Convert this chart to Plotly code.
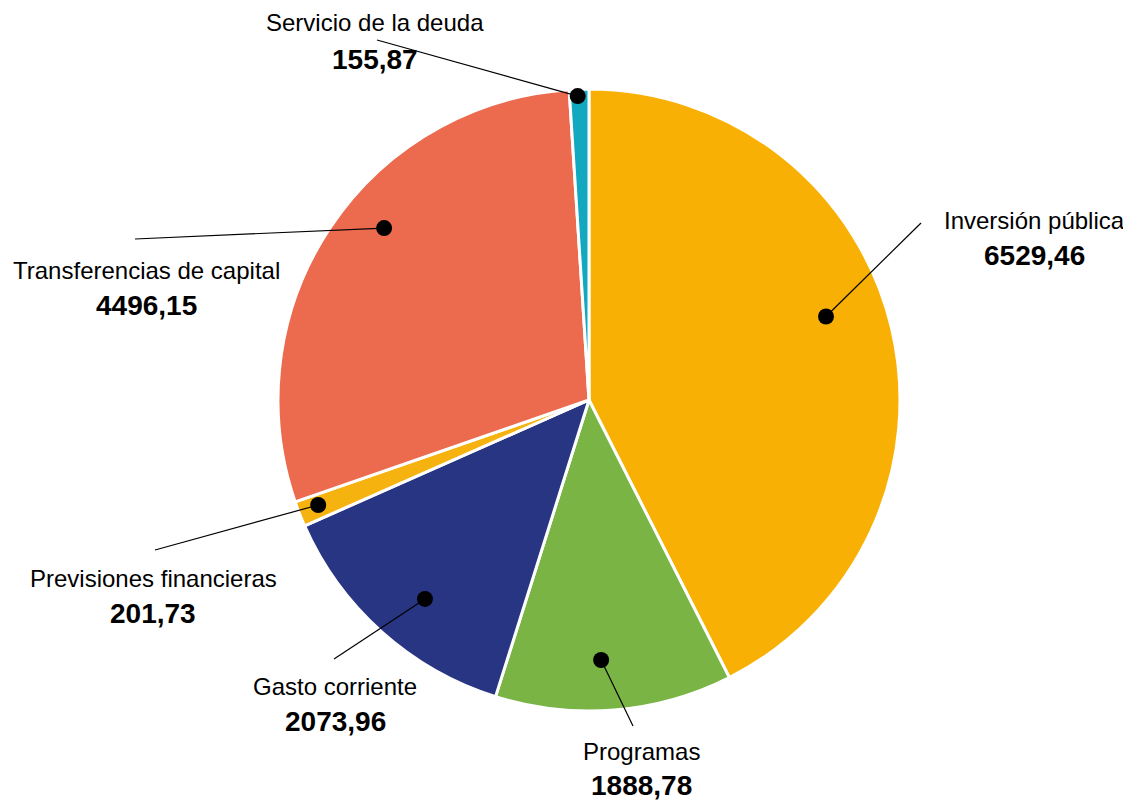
import math
import plotly.graph_objects as go

# ---- data ----
categories = ["Inversión pública", "Programas", "Gasto corriente",
              "Previsiones financieras", "Transferencias de capital", "Servicio de la deuda"]
values = [6529.46, 1888.78, 2073.96, 201.73, 4496.15, 155.87]

# ---- style ----
colors = ["#F8B004", "#79B444", "#283583", "#F6B20E", "#EC6A4D", "#12A8BF"]
PAGE_OFF = 8                      # default body margin of the html page
W, H = 1131 - PAGE_OFF, 801 - PAGE_OFF
CX, CY, R = 589, 400, 311          # in window pixels
dot_radius_frac = [0.808, 0.837, 0.829, 0.934, 0.86, 0.978]
dot_angle_offset = [-6.0, 2.0, -2.3, 0.3, 6.4, -0.3]
# label anchor (x center, name y, value y) and leader line end, in window pixels
label_pos = [(1034, 220, 256), (641, 751, 785), (335, 686, 721),
             (153, 578, 613), (146, 270, 306), (375, 22, 59)]
leader_end = [(921, 223), (633, 726), (334, 659), (155, 550), (135, 239), (377, 40)]
FONT = "Liberation Sans, Arial, Helvetica, sans-serif"


def px(x):
    return (x - PAGE_OFF) / W


def py(y):
    return 1 - (y - PAGE_OFF) / H


fig = go.Figure(go.Pie(
    labels=categories, values=values, sort=False, direction="clockwise", rotation=0,
    marker=dict(colors=colors, line=dict(color="white", width=3)),
    textinfo="none", hoverinfo="label+value", showlegend=False,
    domain=dict(x=[px(CX - R), px(CX + R)], y=[py(CY + R), py(CY - R)]),
))

total = sum(values)
shapes, annotations = [], []
cum = 0.0
for i, (cat, v) in enumerate(zip(categories, values)):
    start = cum / total * 360
    cum += v
    end = cum / total * 360
    ang = math.radians((start + end) / 2 + dot_angle_offset[i])
    r = R * dot_radius_frac[i]
    dx = CX + r * math.sin(ang)
    dy = CY - r * math.cos(ang)
    ex, ey = leader_end[i]
    shapes.append(dict(type="line", xref="paper", yref="paper",
                       x0=px(dx), y0=py(dy), x1=px(ex), y1=py(ey),
                       line=dict(color="black", width=1.2), layer="above"))
    shapes.append(dict(type="circle", xref="paper", yref="paper",
                       xsizemode="pixel", ysizemode="pixel",
                       xanchor=px(dx), yanchor=py(dy),
                       x0=-8, x1=8, y0=-8, y1=8,
                       fillcolor="black", line=dict(color="black", width=0), layer="above"))
    lx, ny, vy = label_pos[i]
    annotations.append(dict(text=cat, x=px(lx), y=py(ny), xref="paper", yref="paper",
                            xanchor="center", yanchor="middle", showarrow=False,
                            borderpad=0,
                            font=dict(family=FONT, size=24, color="black")))
    annotations.append(dict(text="<b>" + f"{v:.2f}".replace(".", ",") + "</b>",
                            x=px(lx), y=py(vy), xref="paper", yref="paper",
                            xanchor="center", yanchor="middle", showarrow=False,
                            borderpad=0,
                            font=dict(family=FONT, size=28, color="black")))

fig.update_layout(width=W, height=H, margin=dict(l=0, r=0, t=0, b=0),
                  paper_bgcolor="white", plot_bgcolor="white",
                  shapes=shapes, annotations=annotations)
fig.write_html("out.html")
